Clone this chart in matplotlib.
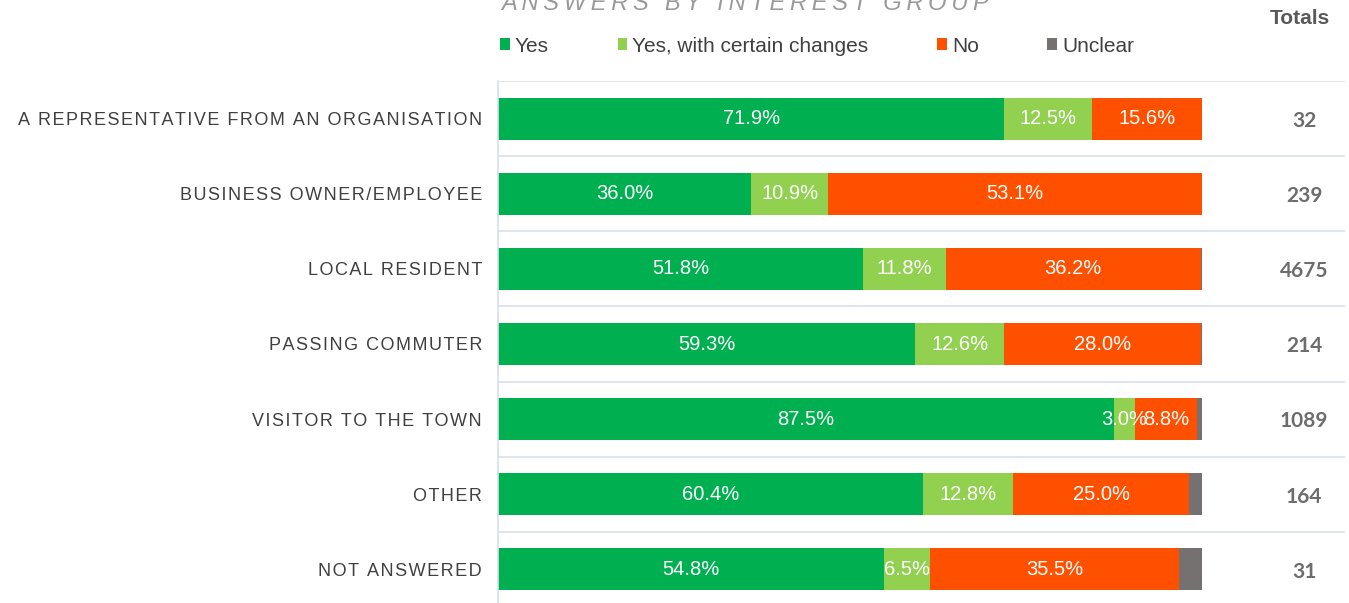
import matplotlib

matplotlib.use("Agg")
import matplotlib.pyplot as plt  # noqa: E402
from matplotlib.patches import Patch  # noqa: E402

# Survey answers by interest group (percent of respondents in each group)
groups = [
    "A REPRESENTATIVE FROM AN ORGANISATION",
    "BUSINESS OWNER/EMPLOYEE",
    "LOCAL RESIDENT",
    "PASSING COMMUTER",
    "VISITOR TO THE TOWN",
    "OTHER",
    "NOT ANSWERED",
]
yes = [71.9, 36.0, 51.8, 59.3, 87.5, 60.4, 54.8]
yes_changes = [12.5, 10.9, 11.8, 12.6, 3.0, 12.8, 6.5]
no = [15.6, 53.1, 36.2, 28.0, 8.8, 25.0, 35.5]
unclear = [0.0, 0.0, 0.2, 0.1, 0.7, 1.8, 3.2]
totals = [32, 239, 4675, 214, 1089, 164, 31]

series = [
    ("Yes", yes, "#00b050"),
    ("Yes, with certain changes", yes_changes, "#92d050"),
    ("No", no, "#ff5000"),
    ("Unclear", unclear, "#767171"),
]

FONTS = ["Liberation Sans", "DejaVu Sans"]


def tracked(s, gap="\u200a"):
    # widen letter spacing by putting a hair space between characters
    return gap.join(s)


W, H = 1349, 603
fig = plt.figure(figsize=(W / 100, H / 100), dpi=100)
ax = fig.add_axes([498 / W, -4 / H, (1345 - 498) / W, 526 / H])

rows = list(range(len(groups)))
left = [0.0] * len(groups)
handles = []
for name, vals, color in series:
    bars = ax.barh(rows, vals, left=left, height=0.56, color=color, linewidth=0)
    if name != "Unclear":
        ax.bar_label(bars, labels=[f"{v:.1f}%" for v in vals], label_type="center",
                     color="white", fontsize=14.5, family="Liberation Sans")
    left = [a + b for a, b in zip(left, vals)]
    handles.append(Patch(facecolor=color, edgecolor="none", label=name))

# totals column to the right of the bars
for r, t in zip(rows, totals):
    ax.text(114.5, r + 0.03, str(t), ha="center", va="center", fontsize=15,
            fontweight="bold", family="Lato", color="#6d6d6d")

ax.set_xlim(0, (1345 - 498) / 7.04)
ax.set_ylim(len(groups) - 0.5, -0.5)
ax.set_yticks(rows)
ax.set_yticklabels([tracked(g) for g in groups], fontsize=13, family=FONTS,
                   color="#404040")
ax.tick_params(axis="y", length=0, pad=11.5)
ax.set_xticks([])
for b in range(len(groups)):
    ax.axhline(b - 0.5, color="#dadfec", lw=1.2, zorder=0)
for side in ("top", "right", "bottom"):
    ax.spines[side].set_visible(False)
ax.spines["left"].set_color("#dadfec")
ax.spines["left"].set_linewidth(1.2)

fig.text(745 / W, 1 - 10 / H, tracked("ANSWERS BY INTEREST GROUP", "\u2009"), ha="center",
         va="baseline", fontsize=17, style="italic", family=FONTS, color="#9a9a9a")
fig.text(1300 / W, 1 - 19 / H, "Totals", ha="center", va="center", fontsize=15,
         fontweight="bold", family=["Liberation Sans Narrow", "Liberation Sans"],
         color="#595959")

fig.legend(handles=handles, loc="center left", bbox_to_anchor=(490 / W, 1 - 46 / H),
           ncol=4, frameon=False, borderpad=0, handlelength=0.45, handleheight=0.45,
           handletextpad=0.25, columnspacing=3.3,
           prop={"family": "Liberation Sans", "size": 15}, labelcolor="#404040")

fig.savefig("out.png", dpi=100)
